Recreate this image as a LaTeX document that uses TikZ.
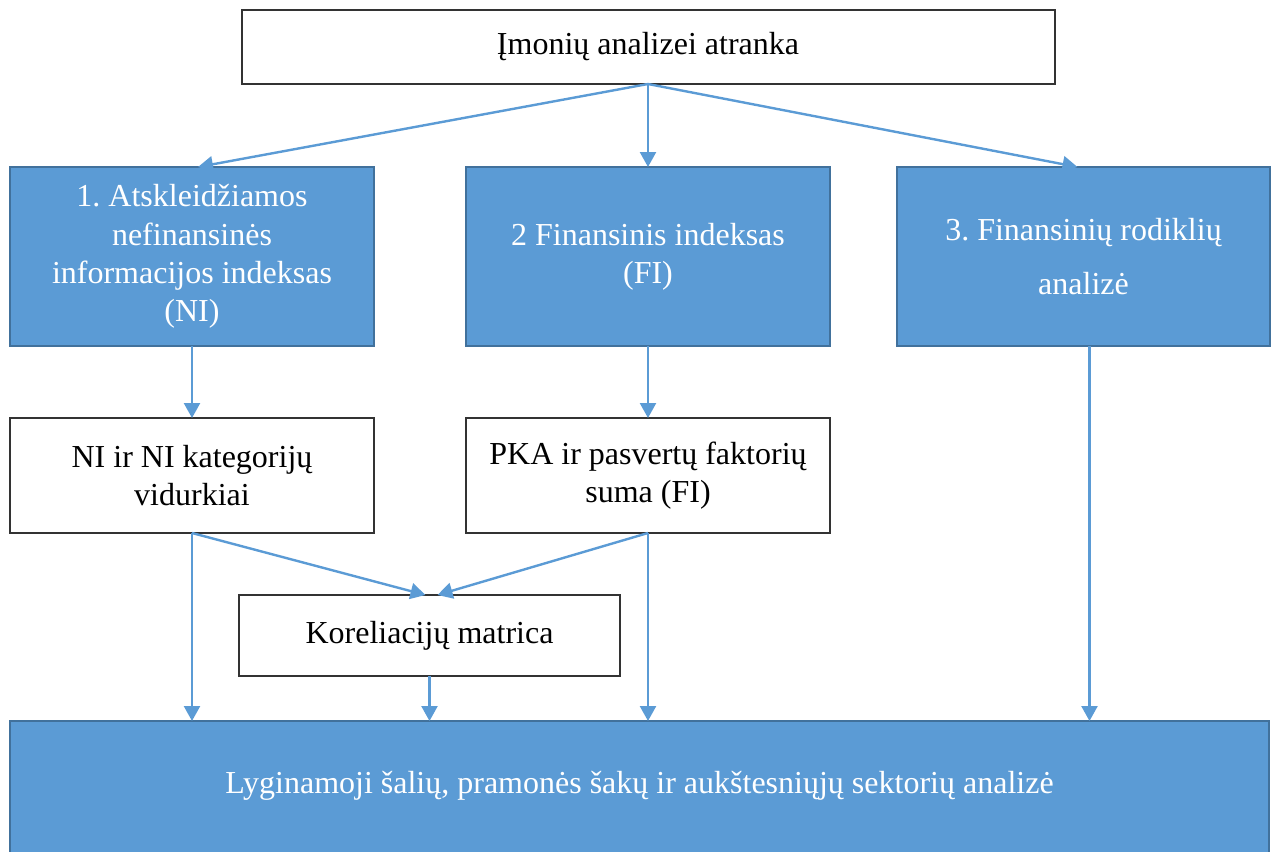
\documentclass[tikz,border=0pt]{standalone}
\usepackage{fontspec}
\setmainfont{Liberation Serif}
\usetikzlibrary{arrows.meta,positioning}
\definecolor{boxblue}{HTML}{5B9BD5}
\definecolor{boxedge}{HTML}{41719C}
\frenchspacing
\tikzset{
  whitebox/.style={rectangle,draw=black!80,line width=1pt,fill=white,align=center,
    outer sep=0pt,inner sep=0pt,font=\fontsize{16}{19.2}\selectfont},
  bluebox/.style={whitebox,draw=boxedge,fill=boxblue,text=white},
  flow/.style={-{Triangle[length=7.5pt,width=8pt]},line width=1.2pt,color=boxblue}
}

\begin{document}
\begin{tikzpicture}[x=0.5pt,y=-0.5pt]
  \useasboundingbox (0,0) rectangle (1271,852);
  \clip (0,0) rectangle (1271,852);
  % top selection box
  \node[whitebox, minimum width=406.5pt, minimum height=37pt] (atr) at (648,47) {Įmonių analizei atranka};
  % three analysis branches
  \node[bluebox, minimum width=182pt, minimum height=89.5pt] (ni) at (192,256.5)
      {1. Atskleidžiamos\\nefinansinės\\informacijos indeksas\\(NI)};
  \node[bluebox, minimum width=182pt, minimum height=89.5pt, right=46pt of ni] (fi)
      {2 Finansinis indeksas\\(FI)};
  \node[bluebox, minimum width=186.5pt, minimum height=89.5pt, right=33.5pt of fi] (rod)
      {3. Finansinių rodiklių\\[8pt]analizė};
  \node[whitebox, minimum width=182pt, minimum height=57.5pt, below=36pt of ni] (nivid)
      {NI ir NI kategorijų\\vidurkiai};
  \node[whitebox, minimum width=182pt, minimum height=57.5pt, below=36pt of fi] (pka)
      {PKA ir pasvertų faktorių\\suma (FI)};
  \node[whitebox, minimum width=190.5pt, minimum height=40.5pt] (kor) at (429.5,635.5)
      {Koreliacijų matrica};
  % comparison box, runs off the bottom edge
  \node[bluebox, anchor=north west, minimum width=629.5pt, minimum height=90pt,
        text height=10pt, text depth=28pt] (lyg) at (10,721)
      {Lyginamoji šalių, pramonės šakų ir aukštesniųjų sektorių analizė};

  \draw[flow] (atr.south) -- ([xshift=3pt]ni.north);
  \draw[flow] (atr.south) -- (fi.north);
  \draw[flow] (atr.south) -- ([xshift=-3pt]rod.north);
  \draw[flow] (ni.south) -- (nivid.north);
  \draw[flow] (fi.south) -- (pka.north);
  \draw[flow] ([xshift=3pt]rod.south) -- ([xshift=3pt]rod.south |- lyg.north);
  \draw[flow] (nivid.south) -- ([xshift=-2pt]kor.north);
  \draw[flow] (pka.south) -- ([xshift=4pt]kor.north);
  \draw[flow] (nivid.south) -- (nivid.south |- lyg.north);
  \draw[flow] (pka.south) -- (pka.south |- lyg.north);
  \draw[flow] (kor.south) -- (kor.south |- lyg.north);
\end{tikzpicture}
\end{document}
